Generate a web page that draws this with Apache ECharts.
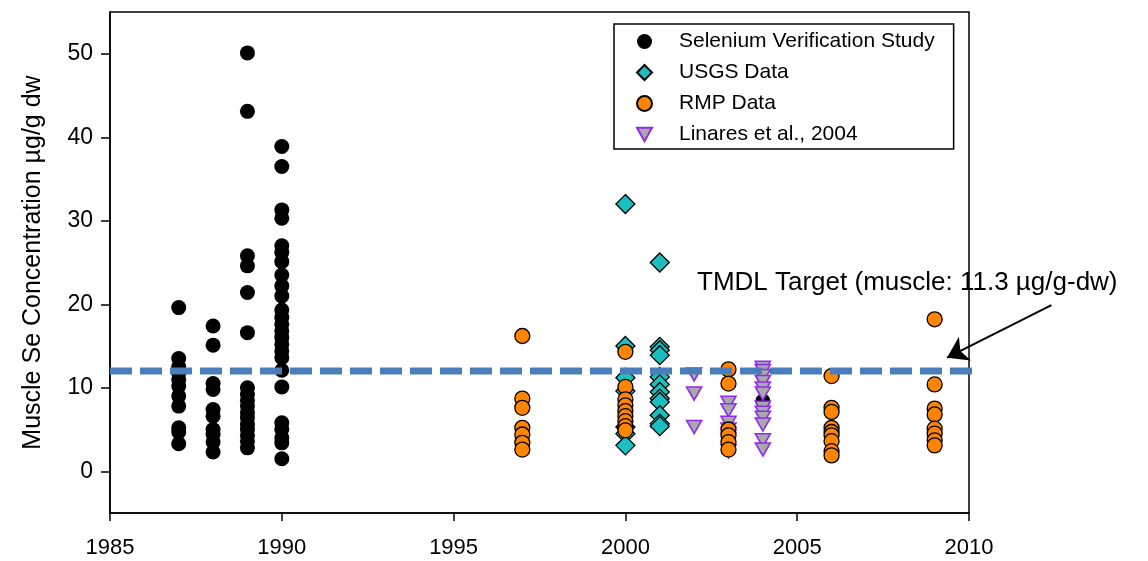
<!DOCTYPE html>
<html>
<head>
<meta charset="utf-8">
<script src="https://cdn.jsdelivr.net/npm/echarts@6/dist/echarts.min.js"></script>
<style>
html,body{margin:0;padding:0;background:#fff;}
#chart{width:1148px;height:561px;}
</style>
</head>
<body>
<div id="chart"></div>
<script>
// ---- data (year -> measured concentrations, µg/g dw) ----
const seleniumYears = [1987, 1988, 1989, 1990, 2004];
const selenium1987 = [19.6, 13.5, 12.5, 11.8, 11.0, 10.2, 9.0, 7.8, 5.2, 4.7, 3.3];
const selenium1988 = [17.4, 15.1, 10.5, 9.8, 7.4, 6.6, 5.0, 4.4, 3.5, 2.3];
const selenium1989 = [50.1, 43.1, 25.8, 24.6, 21.4, 16.6, 10.0, 9.2, 8.5, 7.8, 7.0, 6.4, 5.6, 5.0, 4.3, 3.6, 2.8];
const selenium1990 = [38.9, 36.5, 31.3, 30.3, 27.0, 26.2, 25.1, 23.5, 22.2, 21.0, 19.3, 18.4, 17.6, 16.8, 16.0, 15.2, 14.4, 13.6, 12.1, 10.1, 5.8, 5.0, 4.0, 3.4, 1.5];
const selenium2004 = [8.4];

const usgsYears = [2000, 2001];
const usgs2000 = [32.0, 15.0, 11.2, 9.6, 5.3, 4.5, 3.1];
const usgs2001 = [25.0, 14.9, 14.5, 13.9, 11.3, 10.4, 9.5, 8.7, 8.3, 6.7, 5.7, 5.4];

const rmpYears = [1997, 2000, 2003, 2006, 2009];
const rmp1997 = [16.2, 8.7, 7.6, 5.2, 4.4, 3.4, 2.6];
const rmp2000 = [14.3, 10.1, 8.6, 7.9, 7.2, 6.6, 6.0, 5.4, 4.9];
const rmp2003 = [12.2, 10.5, 5.0, 4.3, 3.5, 2.6];
const rmp2006 = [11.4, 7.6, 7.1, 5.2, 4.7, 4.3, 3.6, 2.4, 1.9];
const rmp2009 = [18.2, 10.4, 7.5, 6.8, 5.1, 4.5, 3.7, 3.1];

const linaresYears = [2002, 2003, 2004];
const linares2002 = [11.6, 9.3, 5.3];
const linares2003 = [8.2, 7.3, 5.8, 5.0, 4.5, 3.8, 2.4];
const linares2004 = [12.4, 12.0, 11.4, 10.7, 9.9, 9.3, 7.6, 7.0, 6.4, 5.6, 3.7, 2.6];

const targetLine = [[1985, 12], [2010.26, 12]];
const arrowLine = [[2012.4, 19.9], [2009.36, 13.6]];
const targetLabel = 'TMDL Target (muscle: 11.3 µg/g-dw)';

const yTicks = [0, 10, 20, 30, 40, 50];
const xTicks = [1985, 1990, 1995, 2000, 2005, 2010];
const seriesNames = ['Selenium Verification Study', 'USGS Data', 'RMP Data', 'Linares et al., 2004'];

function pairs(years, groups) {
  const out = [];
  years.forEach((yr, i) => groups[i].forEach(v => out.push([yr, v])));
  return out;
}
const seleniumData = pairs(seleniumYears, [selenium1987, selenium1988, selenium1989, selenium1990, selenium2004]);
const usgsData = pairs(usgsYears, [usgs2000, usgs2001]);
const rmpData = pairs(rmpYears, [rmp1997, rmp2000, rmp2003, rmp2006, rmp2009]);
const linaresData = pairs(linaresYears, [linares2002, linares2003, linares2004]);

const FONT = '"Liberation Sans", Arial, sans-serif';
const chart = echarts.init(document.getElementById('chart'), null, {renderer: 'canvas'});
chart.setOption({
  animation: false,
  backgroundColor: '#ffffff',
  grid: {left: 110, right: 179, top: 12, bottom: 48, show: true, borderColor: '#000', borderWidth: 1.5, backgroundColor: 'transparent'},
  legend: {
    data: [
      {name: seriesNames[0]},
      {name: seriesNames[1], icon: 'path://M5,0L10,5L5,10L0,5Z'},
      {name: seriesNames[2]},
      {name: seriesNames[3], icon: 'path://M0,0L10,0L5,9Z'}
    ],
    orient: 'vertical',
    left: 614, top: 24,
    borderColor: '#000', borderWidth: 1.5,
    padding: [7, 19, 4, 22],
    itemWidth: 15, itemHeight: 15, itemGap: 10,
    backgroundColor: '#fff',
    textStyle: {fontFamily: FONT, fontSize: 21, color: '#000', lineHeight: 21, padding: [0, 0, 0, 22]},
    selectedMode: false
  },
  xAxis: {
    type: 'value', min: 1985, max: 2010, interval: 5,
    axisLine: {show: true, onZero: false, lineStyle: {color: '#000', width: 1.5}},
    axisTick: {show: true, length: 8, inside: false, lineStyle: {color: '#000', width: 1.5}},
    axisLabel: {fontFamily: FONT, fontSize: 22, color: '#000', margin: 24, customValues: xTicks,
                formatter: v => String(v)},
    splitLine: {show: false}
  },
  yAxis: {
    type: 'value', min: -5, max: 55,
    name: 'Muscle Se Concentration µg/g dw',
    nameLocation: 'middle', nameGap: 64, nameRotate: 90,
    nameTextStyle: {fontFamily: FONT, fontSize: 25, color: '#000'},
    axisLine: {show: true, onZero: false, lineStyle: {color: '#000', width: 1.5}},
    axisTick: {show: true, length: 9, inside: false, lineStyle: {color: '#000', width: 1.5}, customValues: yTicks},
    axisLabel: {fontFamily: FONT, fontSize: 23, color: '#000', margin: 17, customValues: yTicks},
    splitLine: {show: false}
  },
  series: [
    {name: seriesNames[0], type: 'scatter', data: seleniumData, symbol: 'circle', symbolSize: 15,
     itemStyle: {color: '#000', opacity: 1}},
    {name: seriesNames[1], type: 'scatter', data: usgsData, symbol: 'diamond', symbolSize: 19,
     itemStyle: {color: '#1bbfbf', borderColor: '#000', borderWidth: 1.3, opacity: 1}},
    {name: seriesNames[3], type: 'scatter', data: linaresData, symbol: 'triangle', symbolRotate: 180, symbolSize: [15, 13],
     itemStyle: {color: '#a9a9a9', borderColor: '#8f2cf2', borderWidth: 1.6, opacity: 1}},
    {name: seriesNames[2], type: 'scatter', data: rmpData, symbol: 'circle', symbolSize: 15,
     itemStyle: {color: '#ff8400', borderColor: '#000', borderWidth: 1.3, opacity: 1}},
    {name: 'target', type: 'line', data: targetLine, symbol: 'none', clip: false, silent: true, z: 5,
     lineStyle: {color: '#4a7ebb', width: 7, type: [22, 8]}},
    {name: 'arrow', type: 'lines', coordinateSystem: 'cartesian2d', clip: false, silent: true, z: 5,
     symbol: ['none', 'arrow'], symbolSize: 20,
     lineStyle: {color: '#000', width: 2, opacity: 1, curveness: 0},
     data: [{coords: arrowLine}]}
  ],
  graphic: [
    {type: 'text', left: 697, top: 270, silent: true,
     style: {text: targetLabel, font: '26px ' + FONT, fill: '#000'}}
  ]
});
</script>
</body>
</html>
